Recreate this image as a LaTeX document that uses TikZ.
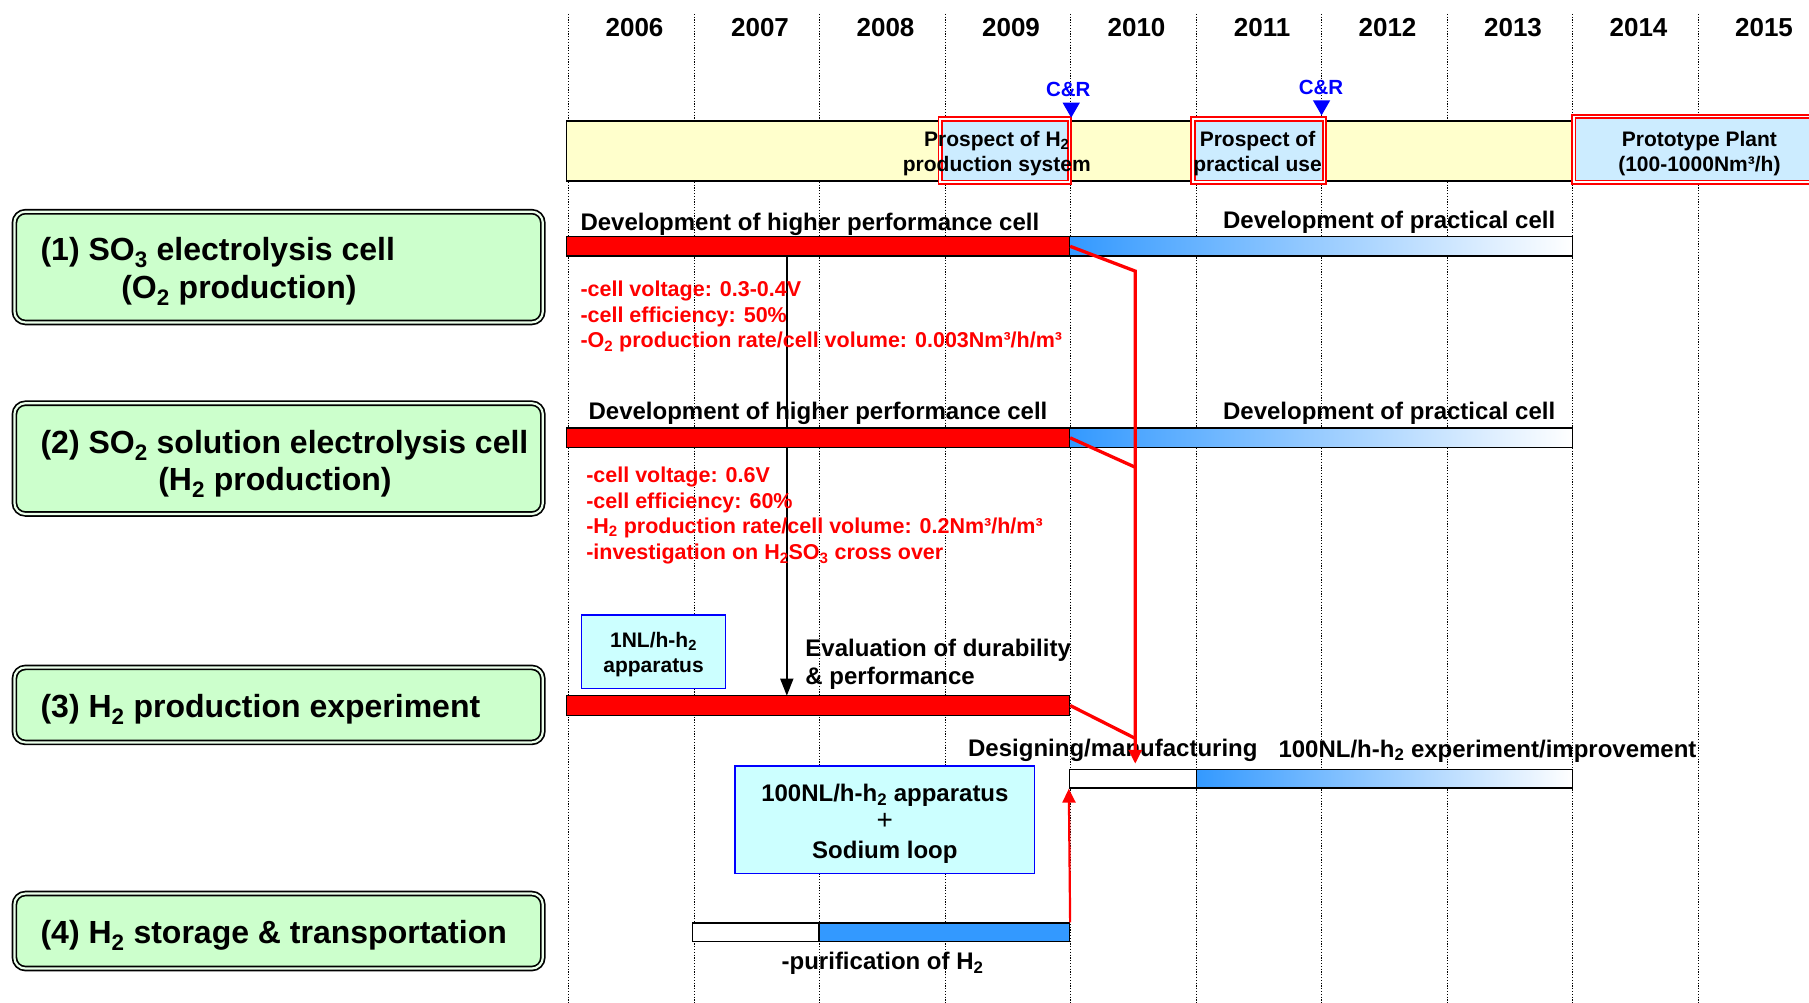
\documentclass[tikz,border=0pt]{standalone}
\usepackage{fontspec}
\setmainfont{Liberation Sans}
\usetikzlibrary{fit,arrows.meta}
\pgfdeclarelayer{back}
\pgfsetlayers{back,main}
\definecolor{bandyellow}{RGB}{255,255,204}
\definecolor{prosblue}{RGB}{204,236,255}
\definecolor{boxgreen}{RGB}{204,255,204}
\definecolor{boxcyan}{RGB}{204,255,255}
\definecolor{barblue}{RGB}{51,153,255}
\newcommand{\sbs}[1]{\textsubscript{#1}}
\begin{document}
\begin{tikzpicture}[x=1.1537pt, y=-1.1537pt,
  yrline/.style={line width=0.9pt, dash pattern=on 1.1pt off 1.7pt, black},
  yr/.style={font=\fontsize{26}{30}\selectfont\bfseries, inner sep=0pt, text height=16pt, text depth=0pt},
  band/.style={draw=black, line width=1.6pt, fill=bandyellow, inner sep=0pt},
  pbox/.style={draw=red, line width=1.8pt, double=white, double distance=1.8pt, fill=prosblue, inner sep=0pt},
  ptxt/.style={align=center, inner sep=0pt, font=\fontsize{21}{25.4}\selectfont\bfseries},
  crlbl/.style={text=blue, inner sep=0pt, text height=15pt, text depth=0pt, font=\fontsize{20.5}{24}\selectfont\bfseries},
  gbox/.style={draw=black, line width=1.7pt, double=boxgreen!40!white, double distance=2.2pt, fill=boxgreen, rounded corners=11pt, inner sep=0pt},
  gtxt/.style={anchor=west, inner sep=0pt, text height=22.5pt, text depth=0pt, font=\fontsize{32}{36}\selectfont\bfseries},
  btxt/.style={anchor=west, inner sep=0pt, text height=17pt, text depth=0pt, font=\fontsize{24}{28}\selectfont\bfseries},
  rtxt/.style={anchor=west, inner sep=0pt, text height=17pt, text depth=0pt, text=red, font=\fontsize{21.5}{25}\selectfont\bfseries},
  rbar/.style={draw=black, line width=1.3pt, fill=red, inner sep=0pt},
  gbar/.style={draw=black, line width=1.3pt, left color=barblue, right color=white, inner sep=0pt},
  wbar/.style={draw=black, line width=1.3pt, fill=white, inner sep=0pt},
  bbar/.style={draw=black, line width=1.3pt, fill=barblue, inner sep=0pt},
  cbox/.style={draw=blue, line width=1.2pt, fill=boxcyan, inner sep=0pt},
  rconn/.style={draw=red, line width=3.3pt, line join=miter},
  rarrow/.style={draw=red, line width=2.2pt, -{Triangle[length=14pt,width=13pt]}},
  karrow/.style={draw=black, line width=1.6pt, -{Triangle[length=17pt,width=13pt]}}
]
\begin{pgfonlayer}{back}
\fill[white] (0,0) rectangle (1568,869);
\end{pgfonlayer}
\useasboundingbox (0,0) rectangle (1568,869);
\clip (0,0) rectangle (1568,869);

% year grid
\foreach \i in {0,...,9} {\draw[yrline] ({493+108.78*\i},12) -- ({493+108.78*\i},869);}
\foreach \yr [count=\i from 0] in {2006,...,2015} {\node[yr] (y\yr) at ({550+108.78*\i},25) {\yr};}

% milestone band
\node[band, fit={(491,105) (1620,157)}] (band) {};
\node[pbox, fit={(815,103) (927,158)}] (pb1) {};
\node[pbox, fit={(1034,103) (1148,158)}] (pb2) {};
\node[pbox, fit={(1364,101) (1640,158)}] (pb3) {};
\node[ptxt] (pt1) at (864,133) {Prospect of H\sbs{2}\\production system};
\node[ptxt] (pt2) at (1090,133) {Prospect of\\practical use};
\node[ptxt] (pt3) at (1473,133) {Prototype Plant\\(100-1000Nm³/h)};

% C&R marks
\node[crlbl] (cr1) at (926,77) {C\&R};
\fill[blue] (921,89) -- (936,89) -- (928.5,102) -- cycle;
\node[crlbl] (cr2) at (1145,75) {C\&R};
\fill[blue] (1138,87) -- (1153,87) -- (1145.5,100) -- cycle;

% left category boxes
\node[gbox, fit={(12.5,183.5) (470.5,279.5)}] (g1) {};
\node[gtxt] (g1a) at (35,216) {(1) SO\sbs{3} electrolysis cell};
\node[gtxt] (g1b) at (105,249) {(O\sbs{2} production)};
\node[gbox, fit={(12.5,349.5) (470.5,445.5)}] (g2) {};
\node[gtxt] (g2a) at (35,383) {(2) SO\sbs{2} solution electrolysis cell};
\node[gtxt] (g2b) at (137,415) {(H\sbs{2} production)};
\node[gbox, fit={(12.5,578.5) (470.5,643.5)}] (g3) {};
\node[gtxt] (g3a) at (35,612) {(3) H\sbs{2} production experiment};
\node[gbox, fit={(12.5,774.5) (470.5,839.5)}] (g4) {};
\node[gtxt] (g4a) at (35,808) {(4) H\sbs{2} storage \& transportation};

% row 1
\node[btxt] (l1a) at (503,192) {Development of higher performance cell};
\node[btxt] (l1b) at (1060,191) {Development of practical cell};
\node[rbar, fit={(491,205) (927,222)}] (r1) {};
\node[gbar, fit={(927,205) (1363,222)}] (b1) {};
\node[rtxt] (t11) at (503,250) {-cell voltage: 0.3-0.4V};
\node[rtxt] (t12) at (503,272) {-cell efficiency: 50\%};
\node[rtxt] (t13) at (503,294) {-O\sbs{2} production rate/cell volume: 0.003Nm³/h/m³};

% row 2
\node[btxt] (l2a) at (510,356) {Development of higher performance cell};
\node[btxt] (l2b) at (1060,356) {Development of practical cell};
\coordinate (bx) at (682,0);
\begin{pgfonlayer}{back}
\draw[karrow] (r1.south -| bx) -- (682,603);
\end{pgfonlayer}
\node[rbar, fit={(491,371) (927,388)}] (r2) {};
\node[gbar, fit={(927,371) (1363,388)}] (b2) {};
\node[rtxt] (t21) at (508,411) {-cell voltage: 0.6V};
\node[rtxt] (t22) at (508,433) {-cell efficiency: 60\%};
\node[rtxt] (t23) at (508,455) {-H\sbs{2} production rate/cell volume: 0.2Nm³/h/m³};
\node[rtxt] (t24) at (508,478) {-investigation on H\sbs{2}SO\sbs{3} cross over};

% row 3
\node[cbox, fit={(504,533) (629,597)}] (c1) {};
\node[ptxt] (c1t) at (566.5,567.5) {1NL/h-h\sbs{2}\\apparatus};
\node[btxt, align=left, text height=, text depth=] (ev) at (698,575.5) {Evaluation of durability\\\& performance};
\node[rbar, fit={(491,603) (927,620)}] (r3) {};
\node[btxt] (l3a) at (839,648) {Designing/manufacturing};
\node[btxt] (l3b) at (1108,649) {100NL/h-h\sbs{2} experiment/improvement};
\node[wbar, fit={(927,667) (1037,683)}] (d1) {};
\node[gbar, fit={(1037,667) (1363,683)}] (d2) {};
\node[cbox, fit={(637,664) (897,757)}] (c2) {};
\node[align=center, inner sep=0pt, font=\fontsize{24}{28.3}\selectfont\bfseries] (c2t) at (767,714) {100NL/h-h\sbs{2} apparatus\\{\mdseries\fontsize{28}{28}\selectfont +}\\Sodium loop};

% row 4
\node[wbar, fit={(600,800) (710,816)}] (s1) {};
\node[bbar, fit={(710,800) (927,816)}] (s2) {};
\node[btxt, anchor=center] (l4) at (765,833) {-purification of H\sbs{2}};

% red connectors
\coordinate (j1) at (984,235);
\coordinate (j2) at (984,405);
\coordinate (j3) at (984,640);
\coordinate (dtip) at (984,662);
\draw[rconn, -{Triangle[length=14pt,width=13pt]}] (r1.east) -- (j1) -- (dtip);
\draw[rconn] (r2.east) -- (j2);
\draw[rconn] (r3.east) -- (j3);
\draw[rarrow] (s2.north east) -- (d1.south west);
\end{tikzpicture}
\end{document}
